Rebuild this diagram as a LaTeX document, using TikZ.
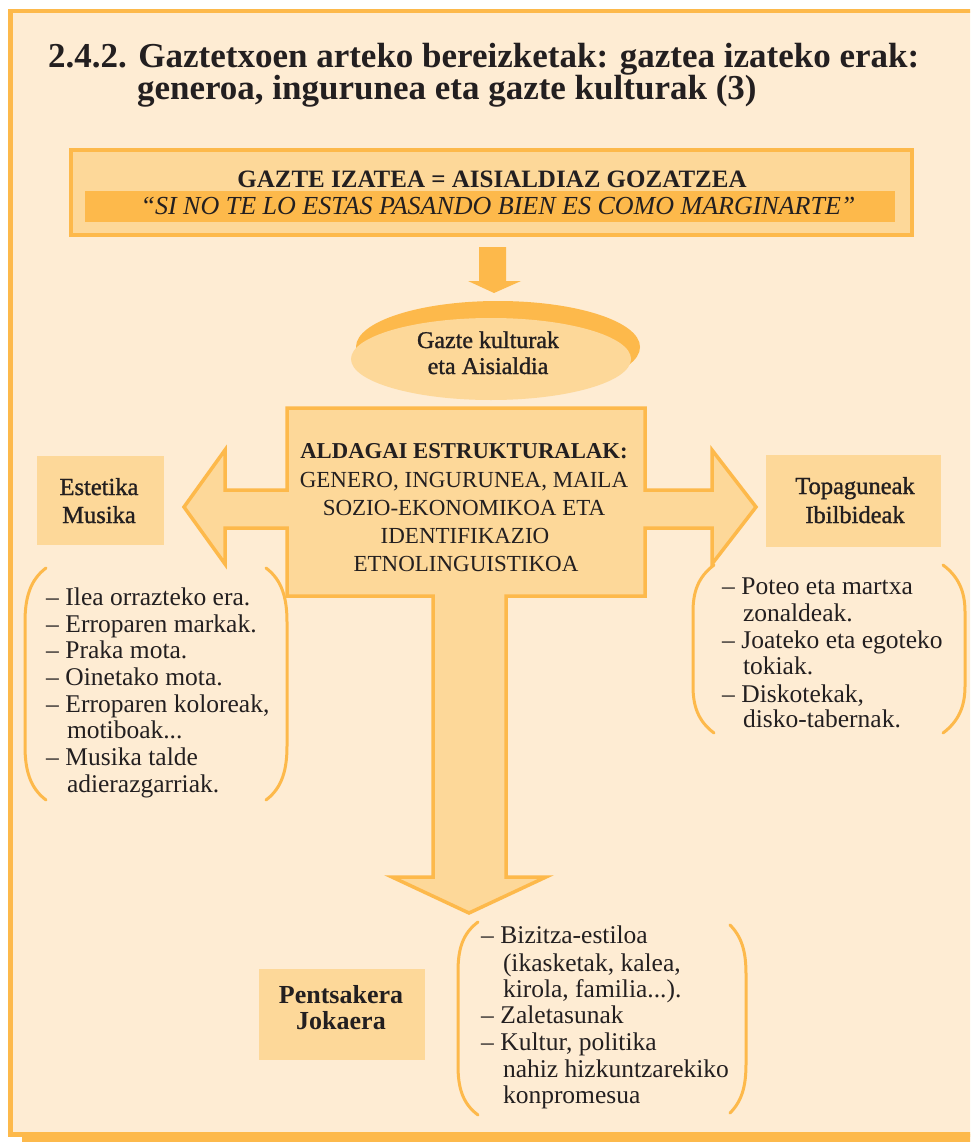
\documentclass[tikz,border=0pt]{standalone}
\usepackage{fontspec}
\setmainfont{Liberation Serif}
\newfontfamily\semib{Liberation Serif}[FakeBold=1.2]
\usetikzlibrary{shapes.geometric}
\definecolor{cream}{HTML}{FEECD3}
\definecolor{lorange}{HTML}{FDD899}
\definecolor{borange}{HTML}{FDB94B}
\definecolor{ink}{HTML}{231F20}
\newcommand\dashitem[1]{\makebox[19.5pt][l]{–}#1}
\tikzset{
  txt/.style={inner sep=0pt, outer sep=0pt, text=ink, anchor=base},
  lst/.style={txt, anchor=base west, font=\fontsize{25.5}{26.5}\selectfont},
  paren/.style={draw=borange, line width=3pt, line cap=round},
  flatbox/.style={fill=lorange, inner sep=0pt, outer sep=0pt},
  blockarrow/.style={draw=borange, line width=3.5pt, fill=lorange, line join=miter},
}
\begin{document}
\begin{tikzpicture}[x=1pt,y=-1pt]
\useasboundingbox (0,0) rectangle (970,1142);
\clip (0,0) rectangle (970,1142);
\fill[white] (0,0) rectangle (970,1142);
% frame
\fill[borange] (22,1134) rectangle (990,1142);
\draw[borange, line width=4.5pt, fill=cream] (10.5,11) rectangle (990,1134.5);

% title
\node[txt, anchor=base west, font=\bfseries\fontsize{35}{35}\selectfont] (t1) at (48,68)
  {2.4.2. Gaztetxoen arteko bereizketak: gaztea izateko erak:};
\node[txt, anchor=base west, font=\bfseries\fontsize{35}{35}\selectfont] (t2) at (137,100)
  {generoa, ingurunea eta gazte kulturak (3)};

% top box
\node[draw=borange, line width=4pt, fill=lorange, inner sep=0pt, minimum width=841, minimum height=85] (topbox) at (491.5,192.5) {};
\node[fill=borange, inner sep=0pt, minimum width=810, minimum height=31] (band) at (490,206.5) {};
\node[txt, font=\bfseries\fontsize{25}{25}\selectfont] (gazte) at (492,187) {GAZTE IZATEA = AISIALDIAZ GOZATZEA};
\node[txt, font=\itshape\fontsize{26}{26}\selectfont] (si) at (498,214) {“SI NO TE LO ESTAS PASANDO BIEN ES COMO MARGINARTE”};

% small arrow
\fill[borange] (479,247) -- (506,247) -- (506,281) -- (521,281) -- (494,293) -- (468,281) -- (479,281) -- cycle;

% ellipse
\node[ellipse, fill=borange, inner sep=0pt, minimum width=284, minimum height=92] (ellb) at (498,347) {};
\node[ellipse, fill=lorange, inner sep=0pt, minimum width=280, minimum height=82] (ellf) at (491,359) {};
\node[txt, font=\semib\fontsize{24}{24}\selectfont] (e1) at (488,348) {Gazte kulturak};
\node[txt, font=\semib\fontsize{24}{24}\selectfont] (e2) at (488,374) {eta Aisialdia};

% cross arrow
\draw[blockarrow] (287,408) -- (645,408) -- (645,490) -- (712,490) -- (712,450) -- (756,507)
  -- (712,564) -- (712,528) -- (645,528) -- (645,596) -- (506,596) -- (506,877) -- (546,877)
  -- (469,913) -- (392,877) -- (433,877) -- (433,596) -- (287,596) -- (287,528) -- (225,528)
  -- (225,564) -- (184,507) -- (225,450) -- (225,490) -- (287,490) -- cycle;
\node[txt, font=\bfseries\fontsize{22.7}{22.7}\selectfont] (c1) at (464,458) {ALDAGAI ESTRUKTURALAK:};
\node[txt, font=\fontsize{23}{23}\selectfont] (c2) at (464,487) {GENERO, INGURUNEA, MAILA};
\node[txt, font=\fontsize{23}{23}\selectfont] (c3) at (464,515) {SOZIO-EKONOMIKOA ETA};
\node[txt, font=\fontsize{23}{23}\selectfont] (c4) at (465,543) {IDENTIFIKAZIO};
\node[txt, font=\fontsize{23}{23}\selectfont] (c5) at (466,571) {ETNOLINGUISTIKOA};

% side boxes
\node[flatbox, minimum width=127, minimum height=89] (est) at (100.5,500.5) {};
\node[txt, font=\semib\fontsize{24.5}{24.5}\selectfont] (est1) at (99,495) {Estetika};
\node[txt, font=\semib\fontsize{24.5}{24.5}\selectfont] (est2) at (99,523) {Musika};

\node[flatbox, minimum width=175, minimum height=92] (top) at (853.5,501) {};
\node[txt, font=\semib\fontsize{24.5}{24.5}\selectfont] (top1) at (855,494) {Topaguneak};
\node[txt, font=\semib\fontsize{24.5}{24.5}\selectfont] (top2) at (855,523) {Ibilbideak};

\node[flatbox, minimum width=166, minimum height=91] (pen) at (342,1014.5) {};
\node[txt, font=\bfseries\fontsize{26}{26}\selectfont] (pen1) at (341,1003) {Pentsakera};
\node[txt, font=\bfseries\fontsize{26}{26}\selectfont] (pen2) at (341,1029) {Jokaera};

% left list
\draw[paren] (46,568) .. controls (30,580) and (25,598) .. (25,622) -- (25,746) .. controls (25,770) and (30,788) .. (46,800);
\draw[paren] (266,568) .. controls (282,580) and (287,598) .. (287,622) -- (287,746) .. controls (287,770) and (282,788) .. (266,800);
\node[lst] (l1) at (46,605) {\dashitem{Ilea orrazteko era.}};
\node[lst] (l2) at (46,632) {\dashitem{Erroparen markak.}};
\node[lst] (l3) at (46,658) {\dashitem{Praka mota.}};
\node[lst] (l4) at (46,685) {\dashitem{Oinetako mota.}};
\node[lst] (l5) at (46,712) {\dashitem{Erroparen koloreak,}};
\node[lst] (l6) at (67,738) {motiboak...};
\node[lst] (l7) at (46,765) {\dashitem{Musika talde}};
\node[lst] (l8) at (67,792) {adierazgarriak.};

% right list
\draw[paren] (714,565) .. controls (698,577) and (693,592) .. (693,612) -- (693,686) .. controls (693,706) and (698,721) .. (714,733);
\draw[paren] (943,565) .. controls (959,577) and (965,592) .. (965,612) -- (965,686) .. controls (965,706) and (959,721) .. (943,733);
\node[lst] (r1) at (722,594) {\dashitem{Poteo eta martxa}};
\node[lst] (r2) at (743,621) {zonaldeak.};
\node[lst] (r3) at (722,648) {\dashitem{Joateko eta egoteko}};
\node[lst] (r4) at (743,674) {tokiak.};
\node[lst] (r5) at (722,702) {\dashitem{Diskotekak,}};
\node[lst] (r6) at (743,727) {disko-tabernak.};

% bottom list
\draw[paren] (478,922) .. controls (462,934) and (458,950) .. (458,972) -- (458,1065) .. controls (458,1087) and (462,1103) .. (478,1115);
\draw[paren] (730,925) .. controls (742,937) and (746,952) .. (746,974) -- (746,1064) .. controls (746,1086) and (742,1101) .. (730,1113);
\node[lst] (b1) at (481,943) {\dashitem{Bizitza-estiloa}};
\node[lst] (b2) at (503,971) {(ikasketak, kalea,};
\node[lst] (b3) at (503,997) {kirola, familia...).};
\node[lst] (b4) at (481,1023) {\dashitem{Zaletasunak}};
\node[lst] (b5) at (481,1050) {\dashitem{Kultur, politika}};
\node[lst] (b6) at (503,1077) {nahiz hizkuntzarekiko};
\node[lst] (b7) at (503,1103) {konpromesua};
\end{tikzpicture}
\end{document}
